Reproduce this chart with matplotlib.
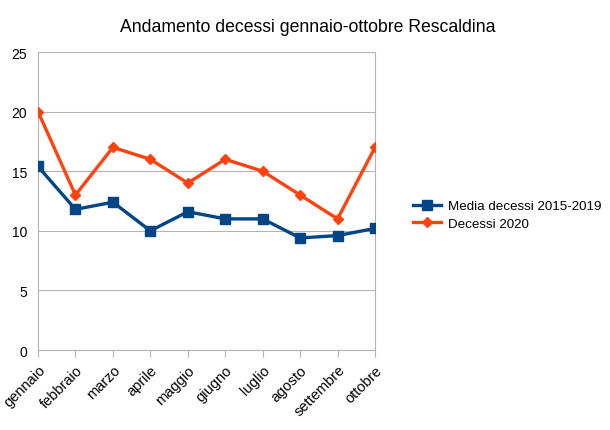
import matplotlib
matplotlib.use('Agg')
import matplotlib.pyplot as plt

plt.rcParams['font.family'] = ['Liberation Sans', 'DejaVu Sans']

mesi = ['gennaio', 'febbraio', 'marzo', 'aprile', 'maggio', 'giugno',
        'luglio', 'agosto', 'settembre', 'ottobre']
media_2015_2019 = [15.4, 11.8, 12.4, 10.0, 11.6, 11.0, 11.0, 9.4, 9.6, 10.2]
decessi_2020 = [20, 13, 17, 16, 14, 16, 15, 13, 11, 17]
y_ticks = [0, 5, 10, 15, 20, 25]

fig = plt.figure(figsize=(6.1, 4.31), dpi=100)
ax = fig.add_axes([0.0623, 0.1856, 0.5525, 0.6914])

x = list(range(len(mesi)))
ax.plot(x, media_2015_2019, color='#004586', lw=2.4, marker='s', ms=7.5,
        label='Media decessi 2015-2019', zorder=3)
ax.plot(x, decessi_2020, color='#ff420e', lw=2.4, marker='D', ms=5.5,
        label='Decessi 2020', zorder=3)

ax.set_xlim(0, len(mesi) - 1)
ax.set_ylim(0, 25)
ax.set_yticks(y_ticks)
ax.set_xticks(x)
ax.set_xticklabels(mesi, rotation=45, ha='right', rotation_mode='anchor')
ax.tick_params(axis='y', length=0, labelsize=10, pad=8)
ax.tick_params(axis='x', length=5, color='#b3b3b3', labelsize=10.5, pad=4)
ax.grid(axis='y', color='#b3b3b3', lw=0.8)
ax.set_axisbelow(True)
for s in ['left', 'bottom', 'right', 'top']:
    ax.spines[s].set_color('#b3b3b3')
    ax.spines[s].set_linewidth(0.8)
ax.spines['top'].set_visible(False)

fig.suptitle('Andamento decessi gennaio-ottobre Rescaldina', x=0.505, y=0.955, fontsize=12.7)
fig.legend(loc='center left', bbox_to_anchor=(0.658, 0.499), frameon=False,
           fontsize=9.6, handlelength=2.1, handletextpad=0.5, labelspacing=0.4,
           borderpad=0.4)

fig.savefig('out.png', dpi=100)
